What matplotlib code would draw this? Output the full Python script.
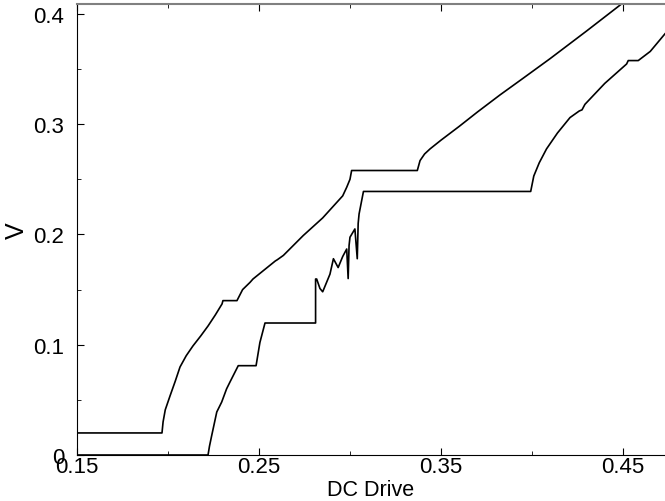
import matplotlib
matplotlib.use("Agg")
import matplotlib.pyplot as plt
from matplotlib.ticker import MultipleLocator

# upper branch: (drive, V)
upper_x = [0.150, 0.1967, 0.1973, 0.1985, 0.2011, 0.2040, 0.2066, 0.2100, 0.2137,
           0.2180, 0.2220, 0.2260, 0.2297, 0.2302, 0.2379, 0.2410, 0.2451, 0.2467,
           0.2560, 0.2590, 0.2600, 0.2634, 0.2743, 0.2850, 0.2927, 0.2960, 0.2982,
           0.3000, 0.3009, 0.3370, 0.3385, 0.3410, 0.3440, 0.3500, 0.3600, 0.3700,
           0.3824, 0.3950, 0.4100, 0.4300, 0.4484, 0.4600]
upper_y = [0.020, 0.020, 0.030, 0.041, 0.0535, 0.067, 0.0798, 0.090, 0.0989,
           0.108, 0.117, 0.127, 0.137, 0.140, 0.140, 0.150, 0.1566, 0.1596,
           0.1720, 0.1760, 0.1770, 0.1810, 0.199, 0.215, 0.229, 0.235, 0.2428,
           0.250, 0.258, 0.258, 0.267, 0.273, 0.2776, 0.2855, 0.298, 0.311,
           0.3265, 0.3415, 0.3595, 0.3845, 0.4080, 0.4230]

# lower branch
lower_x = [0.150, 0.2220, 0.2228, 0.2240, 0.2268, 0.2295, 0.2322, 0.2340, 0.2386,
           0.2484, 0.2505, 0.2533, 0.2811, 0.2811, 0.2817, 0.2835, 0.2850, 0.2870,
           0.2890, 0.2909, 0.2935, 0.2960, 0.2982, 0.2990, 0.2995, 0.3000, 0.3027,
           0.3040, 0.3045, 0.3050, 0.3074, 0.3993, 0.4010, 0.4040, 0.4080, 0.4140,
           0.4209, 0.4260, 0.4275, 0.4291, 0.4400, 0.4520, 0.4529, 0.4584, 0.4650,
           0.4731]
lower_y = [0.000, 0.000, 0.008, 0.0175, 0.039, 0.048, 0.060, 0.066, 0.081,
           0.081, 0.102, 0.1197, 0.1197, 0.1596, 0.1596, 0.1510, 0.1480, 0.1560,
           0.1640, 0.178, 0.170, 0.1800, 0.1868, 0.1600, 0.1900, 0.1975, 0.205,
           0.1780, 0.2100, 0.2186, 0.239, 0.239, 0.253, 0.265, 0.2776, 0.292,
           0.306, 0.3120, 0.3130, 0.318, 0.3370, 0.3546, 0.3577, 0.3577, 0.366,
           0.382]

plt.rcParams['font.family'] = ['Liberation Sans', 'DejaVu Sans']

fig = plt.figure(figsize=(6.65, 5.02), dpi=100)
ax = fig.add_axes([77 / 665, 1 - 456 / 502, 1 - 77 / 665, 451 / 502])

ax.plot(upper_x, upper_y, color='black', lw=1.2)
ax.plot(lower_x, lower_y, color='black', lw=1.2)

ax.set_xlim(0.15, 0.4731)
ax.set_ylim(0, 0.409)

ax.xaxis.set_minor_locator(MultipleLocator(0.05))
ax.yaxis.set_minor_locator(MultipleLocator(0.05))
ax.set_xticks([0.15, 0.25, 0.35, 0.45])
ax.set_xticklabels(['0.15', '0.25', '0.35', '0.45'])
ax.set_yticks([0, 0.1, 0.2, 0.3, 0.4])
ax.set_yticklabels(['0', '0.1', '0.2', '0.3', '0.4'])

ax.spines['right'].set_visible(False)
ax.spines['top'].set_color('#808080')
ax.spines['top'].set_linewidth(1.5)

ax.tick_params(axis='both', which='both', direction='in', top=True, labelsize=16)
ax.tick_params(axis='both', which='major', length=5)
ax.tick_params(axis='both', which='minor', length=3)
ax.tick_params(axis='x', pad=1)
ax.tick_params(axis='y', pad=9)

ax.set_xlabel("DC Drive", fontsize=15.5, labelpad=1)
ax.set_ylabel("V", fontsize=18, labelpad=3)

fig.savefig("out.png", dpi=100)
